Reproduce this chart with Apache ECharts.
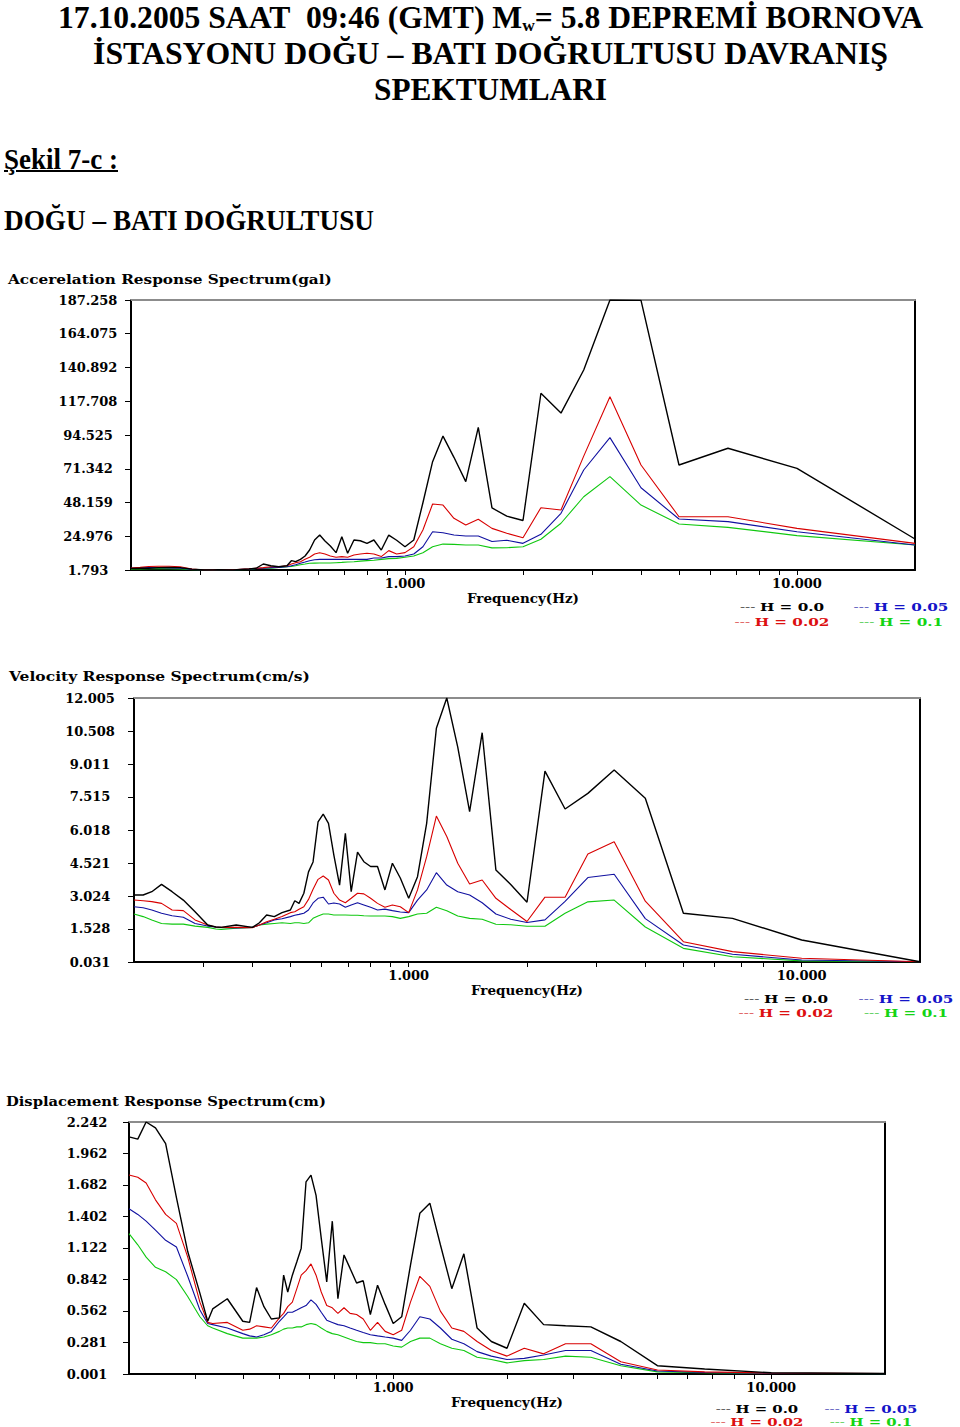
<!DOCTYPE html>
<html><head><meta charset="utf-8">
<script src="https://cdn.jsdelivr.net/npm/echarts@6/dist/echarts.min.js"></script>
<style>
html,body{margin:0;padding:0;background:#fff;}
#wrap{position:relative;width:960px;height:1427px;overflow:hidden;background:#fff;}
#chart{position:absolute;left:0;top:0;width:960px;height:1427px;}
.hd{position:absolute;font-family:"Liberation Serif","Times New Roman",serif;font-weight:bold;color:#000;white-space:nowrap;line-height:1;transform-origin:0 0;}
.sub{font-size:55%;position:relative;top:0.15em;}
</style></head>
<body><div id="wrap"><div id="chart"></div>
<div class="hd" data-cx="490" data-w="865" style="top:1px;font-size:32px;">17.10.2005 SAAT&nbsp; 09:46 (GMT) M<span class="sub">w</span>= 5.8 DEPREMİ BORNOVA</div>
<div class="hd" data-cx="490" data-w="795" style="top:37px;font-size:32px;">İSTASYONU DOĞU – BATI DOĞRULTUSU DAVRANIŞ</div>
<div class="hd" data-cx="490" data-w="233" style="top:73px;font-size:32px;">SPEKTUMLARI</div>
<div class="hd" data-left="4" data-w="114" style="top:145px;font-size:29px;text-decoration:underline;text-decoration-thickness:2px;">Şekil 7-c :</div>
<div class="hd" data-left="4" data-w="370" style="top:206px;font-size:29px;">DOĞU – BATI DOĞRULTUSU</div>
</div>
<script>
// ---------------- DATA ----------------
// Frequencies (Hz) of the spectral ordinates (periods in 0.05 s steps)
const frequencyHz = [20, 10, 6.667, 5, 4, 3.333, 2.857, 2.5, 2.222, 2, 1.818, 1.667,
  1.538, 1.429, 1.333, 1.25, 1.176, 1.111, 1.053, 1,
  0.952, 0.909, 0.870, 0.833, 0.8, 0.769, 0.741, 0.714, 0.690, 0.667,
  0.645, 0.625, 0.606, 0.588, 0.571, 0.556, 0.541, 0.526, 0.513, 0.5,
  0.476, 0.455, 0.435, 0.417,
  0.4, 0.364, 0.333, 0.323, 0.308, 0.286, 0.267, 0.25, 0.235, 0.222, 0.211, 0.2];

const seriesNames = ['H = 0.0', 'H = 0.02', 'H = 0.05', 'H = 0.1'];

// Acceleration response spectrum (gal)
const accH00 = [23.1, 71.6, 85.4, 73.9, 187.0, 187.258, 139.2, 109.6, 123.2, 35.8, 38.8, 44.4,
  99.8, 62.5, 79.2, 93.8, 76.2, 48.0, 22.4, 17.8,
  22.2, 25.8, 15.5, 22.4, 20.1, 21.9, 22.4, 13.3, 24.7, 13.7,
  18.3, 21.7, 25.8, 22.4, 15.5, 11.4, 9.1, 7.5, 8.2, 4.7,
  4.0, 4.7, 5.9, 3.0,
  2.5, 1.8, 2.0, 1.9, 1.8, 2.4, 3.4, 3.6, 3.4, 3.0, 3.0, 2.8];
const accH02 = [20.1, 30.4, 38.4, 38.4, 73.9, 120.8, 80.0, 43.0, 44.6, 24.0, 27.0, 30.4,
  36.6, 32.7, 37.3, 46.4, 47.1, 29.3, 17.8, 13.7,
  12.8, 15.1, 11.0, 12.8, 13.3, 12.8, 12.1, 10.5, 11.0, 10.5,
  11.4, 12.8, 13.7, 12.8, 10.5, 9.1, 7.5, 6.8, 5.9, 4.7,
  4.0, 4.0, 3.4, 3.0,
  2.6, 2.0, 2.0, 1.9, 1.8, 2.5, 4.0, 4.4, 4.4, 4.2, 3.6, 3.2];
const accH05 = [19.0, 28.1, 35.0, 36.8, 58.3, 92.7, 70.5, 40.7, 26.3, 20.1, 22.2, 21.4,
  25.1, 25.1, 25.8, 27.4, 28.1, 17.8, 12.8, 11.4,
  11.0, 11.0, 10.0, 10.0, 9.1, 9.1, 9.1, 9.1, 9.1, 9.1,
  9.1, 9.1, 9.1, 8.8, 8.2, 7.3, 6.4, 5.4, 4.7, 4.0,
  3.5, 3.4, 3.0, 2.8,
  2.4, 1.9, 1.9, 1.85, 1.8, 2.2, 3.0, 3.2, 3.3, 3.4, 3.3, 3.0];
const accH10 = [19.0, 25.4, 31.1, 33.4, 46.4, 65.9, 52.1, 33.9, 22.9, 17.8, 17.1, 17.0,
  19.0, 19.0, 19.4, 19.6, 17.8, 13.7, 11.4, 10.5,
  9.8, 9.6, 9.1, 8.5, 8.2, 7.9, 7.5, 7.3, 7.0, 6.8,
  6.6, 6.6, 6.6, 6.5, 6.4, 5.9, 5.4, 4.7, 4.3, 4.0,
  3.5, 3.1, 3.0, 2.8,
  2.2, 1.9, 1.9, 1.85, 1.8, 2.0, 2.5, 2.7, 2.8, 2.7, 2.6, 2.4];

// Velocity response spectrum (cm/s)
const velH00 = [0.04, 1.03, 2.01, 2.24, 7.46, 8.74, 7.68, 6.97, 8.69, 2.74, 3.55, 4.20,
  10.43, 6.85, 9.78, 12.005, 10.63, 6.32, 3.90, 2.92,
  3.84, 4.51, 3.30, 4.36, 4.36, 4.58, 5.01, 3.22, 5.87, 3.52,
  4.88, 6.32, 6.74, 6.39, 4.57, 4.12, 3.15, 2.69, 2.81, 2.39,
  2.27, 2.09, 2.16, 1.81,
  1.60, 1.71, 1.60, 1.62, 1.71, 2.31, 2.84, 3.22, 3.55, 3.22, 3.07, 3.07];
const velH02 = [0.04, 0.20, 0.50, 0.95, 2.79, 5.49, 4.93, 2.97, 2.97, 1.87, 2.41, 2.92,
  3.75, 3.57, 4.51, 5.72, 6.65, 4.81, 3.30, 2.27,
  2.54, 2.62, 2.51, 2.69, 2.92, 3.12, 3.15, 2.92, 2.72, 2.84,
  3.15, 3.75, 3.93, 3.78, 3.33, 2.87, 2.54, 2.42, 2.31, 2.27,
  2.09, 1.97, 1.86, 1.71,
  1.59, 1.60, 1.60, 1.62, 1.71, 1.94, 2.36, 2.39, 2.69, 2.77, 2.81, 2.84];
const velH05 = [0.04, 0.12, 0.38, 0.80, 2.00, 4.01, 3.86, 2.78, 1.94, 1.82, 1.97, 2.21,
  2.72, 3.07, 3.22, 3.52, 4.08, 3.30, 2.84, 2.27,
  2.30, 2.36, 2.43, 2.39, 2.51, 2.62, 2.72, 2.62, 2.51, 2.66,
  2.71, 2.66, 2.97, 2.92, 2.71, 2.39, 2.24, 2.19, 2.15, 2.09,
  1.99, 1.94, 1.81, 1.71,
  1.60, 1.58, 1.60, 1.62, 1.66, 1.78, 2.06, 2.13, 2.24, 2.39, 2.49, 2.54];
const velH10 = [0.04, 0.08, 0.27, 0.65, 1.62, 2.84, 2.76, 2.24, 1.65, 1.65, 1.72, 1.74,
  1.97, 2.01, 2.12, 2.36, 2.51, 2.24, 2.21, 2.09,
  2.01, 2.09, 2.12, 2.12, 2.12, 2.13, 2.15, 2.15, 2.16, 2.16,
  2.16, 2.21, 2.21, 2.12, 2.01, 1.81, 1.78, 1.81, 1.81, 1.78,
  1.81, 1.78, 1.75, 1.71,
  1.60, 1.56, 1.51, 1.53, 1.60, 1.66, 1.75, 1.75, 1.78, 1.94, 2.09, 2.21];

// Displacement response spectrum (cm)
const dispH00 = [0.005, 0.012, 0.045, 0.075, 0.29, 0.42, 0.43, 0.44, 0.63, 0.23, 0.29, 0.41,
  1.07, 0.76, 1.15, 1.52, 1.43, 0.97, 0.51, 0.45,
  0.62, 0.79, 0.53, 0.83, 0.81, 0.94, 1.06, 0.67, 1.36, 0.82,
  1.21, 1.59, 1.77, 1.71, 1.12, 1.00, 0.88, 0.73, 0.88, 0.50,
  0.49, 0.60, 0.77, 0.46,
  0.47, 0.67, 0.58, 0.47, 0.72, 1.09, 1.57, 2.05, 2.19, 2.242, 2.09, 2.11];
const dispH02 = [0.005, 0.010, 0.020, 0.037, 0.11, 0.27, 0.27, 0.18, 0.23, 0.16, 0.21, 0.29,
  0.38, 0.41, 0.56, 0.78, 0.87, 0.64, 0.39, 0.35,
  0.38, 0.46, 0.39, 0.49, 0.53, 0.54, 0.59, 0.54, 0.59, 0.61,
  0.73, 0.88, 0.98, 0.92, 0.88, 0.76, 0.64, 0.60, 0.54, 0.50,
  0.41, 0.42, 0.43, 0.40,
  0.39, 0.46, 0.45, 0.46, 0.64, 1.04, 1.34, 1.42, 1.55, 1.70, 1.75, 1.77];
const dispH05 = [0.004, 0.008, 0.015, 0.028, 0.087, 0.21, 0.21, 0.17, 0.14, 0.13, 0.16, 0.20,
  0.27, 0.31, 0.41, 0.49, 0.51, 0.39, 0.30, 0.32,
  0.33, 0.34, 0.35, 0.37, 0.39, 0.41, 0.43, 0.44, 0.46, 0.48,
  0.55, 0.62, 0.66, 0.61, 0.59, 0.57, 0.55, 0.55, 0.51, 0.47,
  0.38, 0.35, 0.33, 0.34,
  0.36, 0.41, 0.44, 0.45, 0.57, 0.87, 1.13, 1.19, 1.28, 1.36, 1.42, 1.47];
const dispH10 = [0.003, 0.006, 0.012, 0.020, 0.075, 0.15, 0.16, 0.13, 0.12, 0.10, 0.13, 0.15,
  0.21, 0.23, 0.27, 0.32, 0.32, 0.29, 0.24, 0.25,
  0.27, 0.27, 0.28, 0.28, 0.29, 0.31, 0.33, 0.35, 0.36, 0.38,
  0.41, 0.44, 0.45, 0.44, 0.42, 0.42, 0.41, 0.41, 0.40, 0.38,
  0.35, 0.33, 0.32, 0.32,
  0.32, 0.36, 0.41, 0.43, 0.51, 0.69, 0.84, 0.91, 0.95, 1.04, 1.15, 1.25];

// Tick labels
const accTicks  = ['1.793', '24.976', '48.159', '71.342', '94.525', '117.708', '140.892', '164.075', '187.258'];
const velTicks  = ['0.031', '1.528', '3.024', '4.521', '6.018', '7.515', '9.011', '10.508', '12.005'];
const dispTicks = ['0.001', '0.281', '0.562', '0.842', '1.122', '1.402', '1.682', '1.962', '2.242'];
const freqTickMarks = [0.3, 0.4, 0.5, 0.6, 0.7, 0.8, 0.9, 1, 2, 3, 4, 5, 6, 7, 8, 9, 10];
const freqTickLabels = [1, 10];
const freqRange = [0.2, 20];

// ---------------- LAYOUT ----------------
document.querySelectorAll('.hd').forEach(el => {
  const w = el.getBoundingClientRect().width;
  const tw = +el.dataset.w;
  const left = el.dataset.cx ? (+el.dataset.cx - tw / 2) : +el.dataset.left;
  el.style.left = left + 'px';
  el.style.transform = 'scaleX(' + (tw / w) + ')';
});

const cv = document.createElement('canvas').getContext('2d');
function tw(str, size, weight) { cv.font = (weight || 'bold') + ' ' + size + 'px "DejaVu Serif"'; return cv.measureText(str).width; }

const colors = ['#000000', '#d80000', '#1010a0', '#10c810'];
const legendColors = ['#000000', '#dd1010', '#1414c8', '#14d414'];
const dashColors = ['#555555', '#e06060', '#6060c0', '#60d060'];
const FONT = 'DejaVu Serif';

const panels = [
  { title: 'Accerelation Response Spectrum(gal)', tx: 8, ty: 280, tW: 324,
    grid: { left: 131, top: 300, width: 784, height: 270 }, ticks: accTicks,
    data: [accH00, accH02, accH05, accH10], labelMargin: 43, nameGap: 20,
    legY: [607, 622], legCx: [782, 901], legW: 99 },
  { title: 'Velocity Response Spectrum(cm/s)', tx: 9, ty: 677, tW: 301,
    grid: { left: 134, top: 698, width: 786, height: 264 }, ticks: velTicks,
    data: [velH00, velH02, velH05, velH10], labelMargin: 44, nameGap: 20,
    legY: [999, 1013], legCx: [786, 906], legW: 99 },
  { title: 'Displacement Response Spectrum(cm)', tx: 6, ty: 1102, tW: 320,
    grid: { left: 129, top: 1122, width: 756, height: 252 }, ticks: dispTicks,
    data: [dispH00, dispH02, dispH05, dispH10], labelMargin: 42, nameGap: 18,
    legY: [1409, 1422], legCx: [757, 871], legW: 97 }
];

const grid = [], xAxis = [], yAxis = [], series = [], graphic = [];
const labelStyle = { fontFamily: FONT, fontWeight: 'bold', fontSize: 13, color: '#000' };

panels.forEach((p, i) => {
  grid.push(Object.assign({ containLabel: false }, p.grid));
  const tickVals = p.ticks.map(Number);
  xAxis.push({
    type: 'log', logBase: 10, gridIndex: i, min: freqRange[0], max: freqRange[1], position: 'bottom',
    axisLine: { onZero: false, lineStyle: { color: '#000', width: 2 } },
    axisTick: { show: true, customValues: freqTickMarks, length: 5, lineStyle: { color: '#000', width: 1 } },
    axisLabel: Object.assign({ customValues: freqTickLabels, margin: 7, formatter: v => Number(v).toFixed(3) }, labelStyle),
    splitLine: { show: false }, minorTick: { show: false }, minorSplitLine: { show: false },
    name: 'Frequency(Hz)', nameLocation: 'middle', nameGap: p.nameGap,
    nameTextStyle: { fontFamily: FONT, fontWeight: 'bold', fontSize: 13.5, color: '#000' }
  });
  xAxis.push({
    type: 'value', gridIndex: i, position: 'top', min: 0, max: 1,
    axisLine: { onZero: false, lineStyle: { color: '#8c8c8c', width: 2 } },
    axisTick: { show: false }, axisLabel: { show: false }, splitLine: { show: false }
  });
  yAxis.push({
    type: 'value', gridIndex: i, min: tickVals[0], max: tickVals[tickVals.length - 1], position: 'left',
    axisLine: { onZero: false, lineStyle: { color: '#000', width: 2 } },
    axisTick: { show: true, customValues: tickVals, length: 6, lineStyle: { color: '#000', width: 1 } },
    axisLabel: Object.assign({ customValues: tickVals, margin: p.labelMargin, align: 'center',
      formatter: v => p.ticks[tickVals.indexOf(Number(v))] || Number(v).toFixed(3) }, labelStyle),
    splitLine: { show: false }
  });
  yAxis.push({
    type: 'value', gridIndex: i, position: 'right', min: 0, max: 1,
    axisLine: { onZero: false, lineStyle: { color: '#000', width: 2 } },
    axisTick: { show: false }, axisLabel: { show: false }, splitLine: { show: false }
  });
  [3, 2, 1, 0].forEach(s => {
    series.push({
      type: 'line', name: seriesNames[s], xAxisIndex: 2 * i, yAxisIndex: 2 * i,
      data: frequencyHz.map((f, j) => [f, p.data[s][j]]),
      showSymbol: false, symbol: 'none', clip: true, animation: false, silent: true,
      lineStyle: { color: colors[s], width: s === 0 ? 1.4 : 1.1 }, z: 3 + (3 - s)
    });
  });
  const tScale = p.tW / tw(p.title, 12);
  graphic.push({ type: 'text', x: p.tx, y: p.ty, scaleX: tScale, silent: true,
    style: { text: p.title, font: 'bold 12px "DejaVu Serif"', fill: '#000', textAlign: 'left', textVerticalAlign: 'middle' } });
  const legScale = p.legW / tw('--- H = 0.05', 11);
  const cells = [[0, 0, 0], [2, 0, 1], [1, 1, 0], [3, 1, 1]];
  cells.forEach(([s, r, c]) => {
    graphic.push({ type: 'text', x: p.legCx[c], y: p.legY[r], scaleX: legScale, silent: true,
      style: { text: '{d|---} {t|' + seriesNames[s] + '}', textAlign: 'center', textVerticalAlign: 'middle',
        rich: { d: { fontFamily: FONT, fontSize: 11, fontWeight: 'normal', fill: dashColors[s], color: dashColors[s] },
                t: { fontFamily: FONT, fontSize: 11, fontWeight: 'bold', fill: legendColors[s], color: legendColors[s] } } } });
  });
});

const chart = echarts.init(document.getElementById('chart'), null, { renderer: 'svg', width: 960, height: 1427 });
chart.setOption({ backgroundColor: 'transparent', animation: false, grid, xAxis, yAxis, series, graphic });
</script>
</body></html>
